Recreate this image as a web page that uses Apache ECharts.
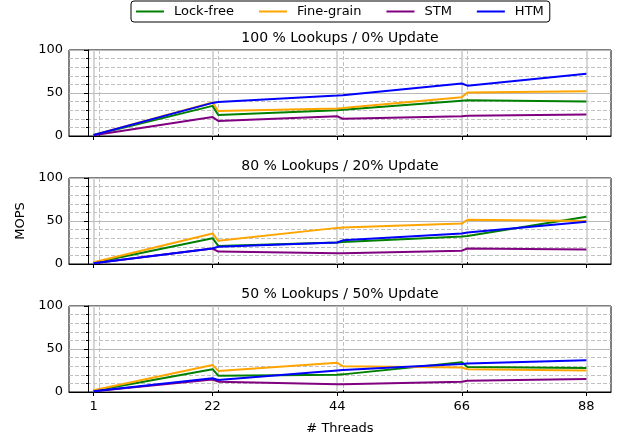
<!DOCTYPE html>
<html>
<head>
<meta charset="utf-8">
<script src="https://cdn.jsdelivr.net/npm/echarts@6/dist/echarts.min.js"></script>
<style>
  html, body { margin: 0; padding: 0; background: #ffffff; }
  #chart { width: 618px; height: 438px; }
</style>
</head>
<body>
<div id="chart"></div>
<script>
// Thread counts measured (x positions of the points)
const threads = [1, 22, 23, 44, 45, 66, 67, 88];
const majorThreadTicks = [1, 22, 44, 66, 88];
const minorThreadTicks = [2, 23, 45, 67];

const seriesNames = ['Lock-free', 'Fine-grain', 'STM', 'HTM'];
const seriesColors = ['#008000', '#ffa500', '#800080', '#0000ff'];

const panelTitles = [
  '100 % Lookups / 0% Update',
  '80 % Lookups / 20% Update',
  '50 % Lookups / 50% Update'
];

// Throughput (MOPS), 100 % lookups
const lockFree100  = [1.2, 35.0, 24.5, 30.0, 30.5, 41.0, 41.5, 40.0];
const fineGrain100 = [1.3, 39.0, 29.0, 32.0, 32.5, 45.0, 50.5, 52.0];
const stm100       = [0.8, 22.0, 17.5, 23.0, 20.0, 23.0, 23.5, 25.0];
const htm100       = [1.2, 38.5, 39.5, 47.0, 47.5, 61.0, 58.5, 72.5];

// Throughput (MOPS), 80 % lookups
const lockFree80  = [1.5, 30.0, 21.0, 25.0, 25.5, 32.0, 32.5, 55.0];
const fineGrain80 = [2.0, 35.5, 27.0, 42.0, 42.5, 47.0, 51.5, 50.0];
const stm80       = [1.0, 18.0, 14.5, 12.5, 12.5, 15.5, 18.0, 17.0];
const htm80       = [1.0, 18.0, 20.0, 25.0, 27.5, 35.5, 36.5, 49.0];

// Throughput (MOPS), 50 % lookups
const lockFree50  = [1.5, 26.5, 19.0, 20.0, 20.5, 34.5, 29.0, 28.0];
const fineGrain50 = [2.0, 31.5, 24.5, 34.0, 30.0, 28.5, 26.5, 25.0];
const stm50       = [1.0, 14.5, 12.0, 9.0, 9.0, 12.0, 13.0, 15.0];
const htm50       = [1.0, 16.0, 14.0, 25.0, 25.5, 32.5, 33.0, 37.0];

const panelData = [
  [lockFree100, fineGrain100, stm100, htm100],
  [lockFree80, fineGrain80, stm80, htm80],
  [lockFree50, fineGrain50, stm50, htm50]
];

const FONT = 'DejaVu Sans';
const panelTops = [50, 178, 306];
const panelHeight = 86;
const xMin = -3.35, xMax = 92.35;

const grids = [], xAxes = [], yAxes = [], series = [], graphics = [];

panelTops.forEach((top, i) => {
  const isLast = i === panelTops.length - 1;
  grids.push({
    left: 69, right: 7, top: top, height: panelHeight,
    show: true, borderColor: '#000', borderWidth: 1, backgroundColor: 'transparent'
  });

  // main thread axis with solid grid lines
  xAxes.push({
    type: 'value', gridIndex: i, min: xMin, max: xMax,
    axisLine: { show: true, onZero: false, lineStyle: { color: '#000', width: 1 } },
    axisTick: { show: true, customValues: majorThreadTicks, length: 4, lineStyle: { color: '#000', width: 1 } },
    axisLabel: {
      show: isLast, customValues: majorThreadTicks, margin: 8,
      color: '#000', fontFamily: FONT, fontSize: 13
    },
    splitLine: { show: true, lineStyle: { color: '#c8c8c8', width: 1.5 } },
    name: isLast ? '# Threads' : '',
    nameLocation: 'middle', nameGap: 30,
    nameTextStyle: { color: '#000', fontFamily: FONT, fontSize: 13 }
  });
  // secondary thread axis: dashed lines and short ticks
  xAxes.push({
    type: 'value', gridIndex: i, min: xMin, max: xMax,
    axisLine: { show: false },
    axisTick: { show: true, customValues: minorThreadTicks, length: 2, lineStyle: { color: '#000', width: 1 } },
    axisLabel: { show: false, customValues: minorThreadTicks },
    splitLine: { show: true, lineStyle: { color: '#c0c0c0', width: 1, type: [4, 2] } }
  });

  yAxes.push({
    type: 'value', gridIndex: i, min: 0, max: 100, interval: 50,
    axisLine: { show: true, lineStyle: { color: '#000', width: 1 } },
    axisTick: { show: true, length: 4, lineStyle: { color: '#000', width: 1 } },
    minorTick: { show: true, splitNumber: 5, length: 2, lineStyle: { color: '#000', width: 1 } },
    axisLabel: { margin: 6, color: '#000', fontFamily: FONT, fontSize: 13 },
    splitLine: { show: true, lineStyle: { color: '#b8b8b8', width: 1 } },
    minorSplitLine: { show: true, lineStyle: { color: '#c0c0c0', width: 1, type: [4, 2] } },
    name: i === 1 ? 'MOPS' : '',
    nameLocation: 'middle', nameGap: 42, nameRotate: 90,
    nameTextStyle: { color: '#000', fontFamily: FONT, fontSize: 13 }
  });

  panelData[i].forEach((vals, s) => {
    series.push({
      name: seriesNames[s], type: 'line',
      xAxisIndex: 2 * i, yAxisIndex: i,
      data: threads.map((t, k) => [t, vals[k]]),
      showSymbol: false, symbol: 'none',
      color: seriesColors[s],
      lineStyle: { width: 2, color: seriesColors[s] },
      emphasis: { disabled: true },
      animation: false
    });
  });

  // panel title, centred over the plotting area
  graphics.push({
    type: 'text', x: 340, y: top - 12,
    style: {
      text: panelTitles[i], fill: '#000', font: '14px "DejaVu Sans"',
      textAlign: 'center', textVerticalAlign: 'middle'
    }
  });
});

const chart = echarts.init(document.getElementById('chart'), null, { renderer: 'canvas' });
chart.setOption({
  animation: false,
  backgroundColor: '#ffffff',
  textStyle: { fontFamily: FONT },
  legend: {
    data: seriesNames.map((n, s) => ({ name: n, icon: 'rect', itemStyle: { color: seriesColors[s] } })),
    top: 1, left: 131,
    borderColor: '#000', borderWidth: 1, borderRadius: 3,
    padding: [4, 6, 4, 5],
    itemWidth: 28, itemHeight: 2, itemGap: 25,
    textStyle: { color: '#000', fontFamily: FONT, fontSize: 13, padding: [0, 0, 0, 5] },
    selectedMode: false
  },
  grid: grids,
  xAxis: xAxes,
  yAxis: yAxes,
  series: series,
  graphic: graphics
});
</script>
</body>
</html>
